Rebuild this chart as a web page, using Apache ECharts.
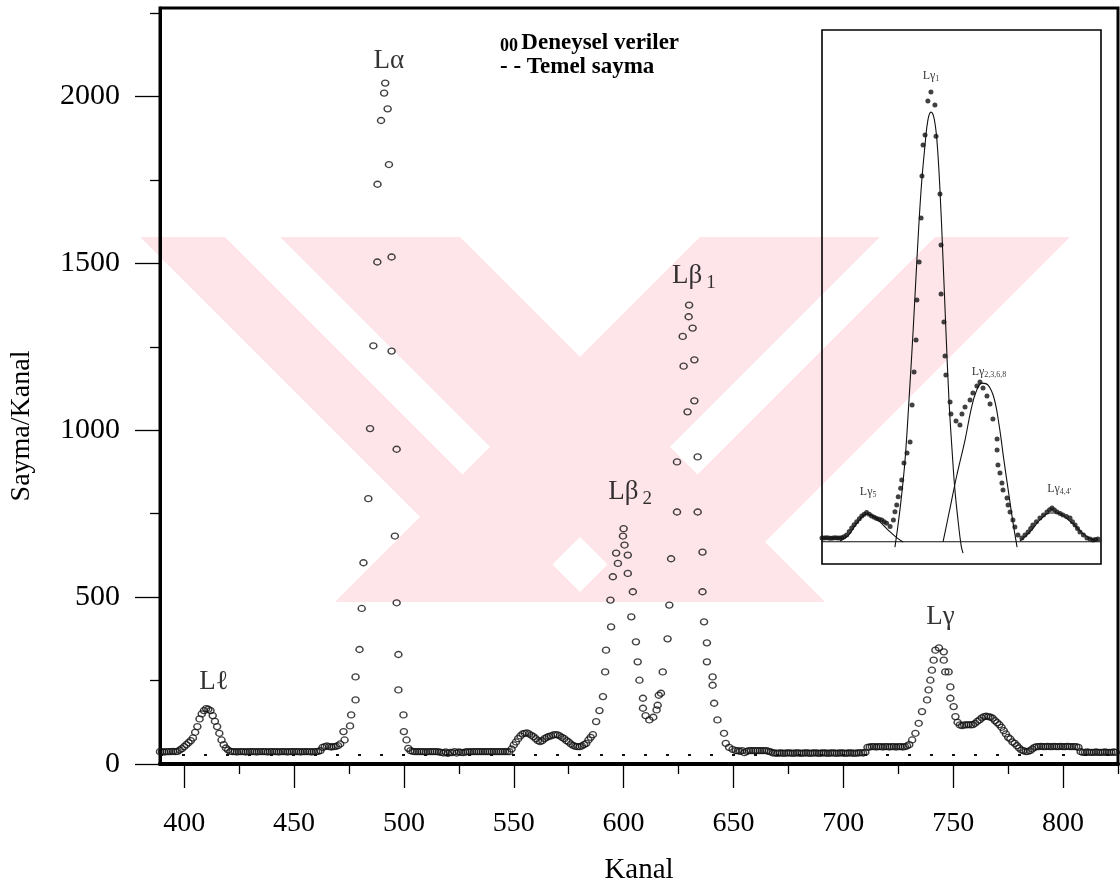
<!DOCTYPE html>
<html>
<head>
<meta charset="utf-8">
<script src="https://cdn.jsdelivr.net/npm/echarts@6/dist/echarts.min.js"></script>
<style>
  html, body { margin: 0; padding: 0; background: #fff; }
  #chart { width: 1120px; height: 890px; }
</style>
</head>
<body>
<div id="chart"></div>
<script>
// Deneysel veriler: [kanal, sayma]
const deneysel = [
  [389,37],[390,37],[391,36],[392,37],[393,37],[394,37],[395,38],[396,37],[397,38],[398,42],[399,46],
  [400,52],[401,58],[402,64],[403,70],[404,78],[405,95],[406,112],[407,135],[408,150],[409,160],
  [410,166],[411,164],[412,160],[413,145],[414,128],[415,112],[416,92],[417,72],[418,58],[419,48],
  [420,42],[421,38],[422,37],[423,37],[424,36],[425,37],[426,37],[427,37],[428,36],[429,37],
  [430,37],[431,37],[432,37],[433,36],[434,37],[435,37],[436,37],[437,37],[438,36],[439,37],
  [440,37],[441,37],[442,37],[443,36],[444,37],[445,37],[446,37],[447,36],[448,37],[449,37],
  [450,37],[451,37],[452,37],[453,36],[454,37],[455,37],[456,37],[457,37],[458,36],[459,37],
  [460,37],[461,38],[462,40],[463,50],[464,52],[465,54],[466,52],[467,51],[468,52],[469,53],
  [470,55],[471,60],[473,72],[472.5,97],[475.5,114],[476,147],[478,192],[478,261],[479.8,343],
  [480.8,466],[481.6,603],[483.8,795],[484.6,1005],[486.1,1253],[487.9,1504],[488,1737],[489.6,1928],
  [491,2010],[491.5,2040],[492.6,1963],[493.2,1796],[494.4,1519],[494.4,1237],[496.7,943],[495.9,683],
  [496.7,483],[497.5,328],[497.5,222],[499.8,147],[500,97],[501.2,72],[502,47],[503,40],
  [504,38],[505,37],[506,37],[507,37],[508,37],[509,37],[510,36],[511,37],[512,37],[513,37],
  [514,37],[515,37],[516,36],[517,35],[518,33],[519,36],[520,32],[521,35],[522,34],[523,37],
  [524,33],[525,36],[526,35],[527,34],[528,36],[529,37],[530,36],[531,37],[532,37],[533,37],
  [534,37],[535,37],[536,37],[537,37],[538,37],[539,37],[540,37],[541,37],[542,37],[543,37],
  [544,37],[545,37],[546,37],[547,37],[548,37],[549,45],[550,57],[551,66],[552,76],[553,84],
  [554,90],[555,92],[556,93],[557,90],[558,86],[559,82],[560,76],[561,70],[562,67],[563,70],
  [564,76],[565,80],[566,83],[567,84],[568,87],[569,88],[570,87],[571,84],[572,80],[573,76],
  [574,70],[575,66],[576,60],[577,56],[578,53],[579,52],[580,52],[581,54],[582,58],[583,62],
  [584,72],[585,80],[586,88],[587.5,127],[589,160],[590.6,202],[591.6,276],[592,341],[594.3,411],
  [594,491],[595.1,561],[596.6,632],[597.4,601],[599.7,683],[600,705],[600.4,656],[601.9,626],
  [601.9,571],[603.5,441],[604.2,516],[605.6,366],[606.4,306],[607.2,251],[608.8,197],[608.8,167],
  [610,145],[611.7,132],[613.5,140],[615,162],[615.5,176],[616,206],[617,212],[617.8,276],
  [620,375],[620.8,476],[621.6,615],[624.3,755],[624.3,905],[626.9,1281],[627.3,1192],[629.1,1055],
  [629.6,1340],[629.8,1375],[631.4,1306],[632.2,1211],[632.2,1088],[633.7,920],[633.7,755],
  [635.9,635],[635.9,516],[636.6,426],[637.9,363],[637.9,306],[640.5,261],[640.5,236],[641.2,182],
  [642.7,132],[645.7,92],[646.5,62],[648,50],[649.6,44],
  [651,40],[652,40],[653,38],[654,40],[655,34],[656,38],[657,40],[658,40],[659,40],[660,40],
  [661,40],[662,40],[663,40],[664,40],[665,40],[666,38],[667,36],[668,33],[669,33],[670,32],
  [671,33],[672,33],[673,32],[674,33],[675,33],[676,33],[677,32],[678,33],[679,33],[680,33],
  [681,32],[682,33],[683,33],[684,33],[685,32],[686,33],[687,33],[688,33],[689,32],[690,33],
  [691,33],[692,33],[693,32],[694,33],[695,33],[696,33],[697,32],[698,33],[699,33],[700,33],
  [701,32],[702,33],[703,33],[704,33],[705,32],[706,33],[707,33],[708,34],[709,33],[710,35],
  [711,50],[712,51],[713,52],[714,52],[715,51],[716,52],[717,52],[718,51],[719,52],[720,52],
  [721,51],[722,52],[723,52],[724,51],[725,52],[726,52],[727,51],[728,52],[729,54],[730,58],
  [731.3,72],[732.8,92],[734.3,122],[735.8,157],[738.1,192],[738.8,222],[739.6,251],[740.3,281],
  [741.1,311],[741.9,341],[743.5,348],[745.7,336],[745.7,311],[746.4,276],[747.9,276],[748.7,231],
  [748.7,197],[750.2,172],[751,142],[752,125],[753,117],[754,115],[755,117],[756,117],[757,118],
  [758,117],[759,118],[760,122],[761,128],[762,132],[763,138],[764,142],[765,143],[766,142],
  [767,140],[768,137],[769,130],[770,124],[771,118],[772,110],[773,100],[774,90],[775,80],
  [776,75],[777,66],[778,62],[779,55],[780,48],[781,42],[782,40],[783,37],[784,38],[785,40],
  [786,45],[787,50],[788,52],[789,52],[790,53],[791,52],[792,52],[793,53],[794,52],[795,52],
  [796,53],[797,52],[798,52],[799,53],[800,52],[801,52],[802,53],[803,52],[804,52],[805,52],
  [806,52],[807,50],[808,37],[809,35],[810,35],[811,36],[812,35],[813,35],[814,35],[815,36],
  [816,35],[817,35],[818,35],[819,36],[820,35],[821,35],[822,35],[823,36],[824,35]
];

// Temel sayma (arka plan düzeyi)
const temelSayma = [[389, 27], [825, 27]];

// Pik adları ve etiket konumları
const pikAdlari = ['L\u2113', 'L\u03b1', 'L\u03b2|1', 'L\u03b2|2', 'L\u03b3'];
const pikKanal = [413.6, 493.1, 632, 603, 744.2];
const pikSayma = [246, 2105, 1461, 814, 440];

// Eksen işaretleri
const xEtiketleri = [400, 450, 500, 550, 600, 650, 700, 750, 800];
const xAraIsaret = [425, 475, 525, 575, 625, 675, 725, 775, 825];
const yEtiketleri = [0, 500, 1000, 1500, 2000];
const yAraIsaret = [250, 750, 1250, 1750, 2250];

// İç grafik: Lγ bölgesi, noktalar
const icNoktalar = [
  [700,117],[701,117],[702,118],[703,117],[704,116],[705,117],[706,118],[707,117],[708,117],[709,118],[710,122],
  [711.2,130],[712.4,146],[713.5,162],[714.6,176],[715.8,190],[717,203],[718.1,216],[719.2,224],[720.3,231],
  [721.5,224],[722.6,216],[723.8,210],[724.9,205],[726,201],[727.2,198],[728.3,190],[729.4,183],[731,168],
  [732.5,198],[733.2,235],[734,265],[734.7,302],[735.8,340],[736.3,377],[737.3,454],[738.7,499],[740.1,548],
  [741,715],[741.9,863],[742.8,1007],[743.2,1186],[744.2,1357],[745.1,1555],[745.5,1744],[746,1883],[746.9,1928],
  [748.2,2081],[751.4,2063],[749.6,2121],
  [751.9,1923],[753.7,1663],[754.2,1434],[754.2,1213],[755.5,1088],[756,935],[756.4,849],[758.3,728],
  [758.7,674],[761,643],[762.8,625],[763.7,674],[765.1,706],[767.4,737],[768.7,768],[770.5,800],[771.9,818],
  [773.3,791],[775.1,755],[776.5,719],[777.8,652],[779.7,562],[779.7,512],[780.1,445],[781,409],[781.9,364],
  [782.4,333],[784.2,297],[784.7,265],[785.6,234],[786.9,198],[787.8,166],[789.2,130],[791,117],
  [792.4,130],[793.8,144],[795,160],[796,175],[797.6,190],[799.2,207],[800.8,220],[802.4,234],[803.6,244],
  [804.7,252],[805.8,243],[807,234],[808.4,227],[809.7,220],[811.3,214],[812.9,207],[814,190],[815.2,175],
  [816.3,160],[817.4,144],[819,130],[820.6,117],[822,112],[823.4,108],[824.5,110],[825.6,112]
];

// İç grafik: uydurulmuş pik eğrileri
const egriLg5 = [[708.2,103],[711.8,126],[715,171],[718.2,211],[720.5,225],[723.2,216],[726.4,189],[730,153],[733.7,121],[736.9,99]];
const egriLg1 = [[733.2,76],[734.6,175],[736,288],[737.8,467],[739.6,737],[741.5,1052],[743.2,1366],[745.1,1681],
  [746.9,1883],[748.2,1995],[749.6,2031],[751,2004],[752.3,1905],[753.7,1681],[755.1,1366],[756.4,1052],
  [757.8,737],[759.2,512],[760.5,333],[761.9,198],[763.3,85],[764.2,49]];
const egriLg2 = [[755.1,99],[758.3,252],[761.4,400],[765.1,557],[767.8,692],[770.1,773],[772.8,813],[775.6,804],
  [778.3,746],[780.6,625],[782.8,467],[785.1,310],[786.9,189],[788.8,76]];
const egriLg4 = [[790.1,103],[794.7,144],[799.2,198],[803.8,229],[807.4,229],[811.1,207],[815.2,171],[819.7,130],[824.3,103]];
const icTemel = [[700, 100], [827, 100]];

// İç grafik etiketleri
const icAdlar = ['1', '2,3,6,8', '5', "4,4'"];
const icKanal = [749.6, 776, 721, 808];
const icSayma = [2193, 863, 324, 337];

const SERIF = '"Liberation Serif", "DejaVu Serif", serif';
const PINK = '#fde5ea';

const chart = echarts.init(document.getElementById('chart'), null, { renderer: 'canvas' });

const peakRich = {
  a: { fontFamily: SERIF, fontSize: 27, color: '#000' },
  b: { fontFamily: SERIF, fontSize: 19, color: '#000', padding: [14, 0, 0, 4] }
};
const insetRich = {
  a: { fontFamily: SERIF, fontSize: 12, color: '#000' },
  b: { fontFamily: SERIF, fontSize: 8, color: '#000', padding: [6, 0, 0, 0] }
};

// Soluk pembe arka plan damgası
function bands() {
  const poly = (pts) => ({ type: 'polygon', silent: true, z: -10, shape: { points: pts }, style: { fill: PINK } });
  return [
    poly([[140,237],[225,237],[590,602],[505,602]]),
    poly([[280,237],[460,237],[825,602],[645,602]]),
    poly([[700,237],[880,237],[515,602],[335,602]]),
    poly([[935,237],[1070,237],[705,602],[570,602]])
  ];
}

const plain = (v) => String(v);

chart.setOption({
  animation: false,
  backgroundColor: '#fff',
  grid: [
    { left: 158, top: 8, width: 960, height: 756, show: true, borderColor: '#000', borderWidth: 3, backgroundColor: 'transparent' },
    { left: 822, top: 30, width: 279, height: 534, show: true, borderColor: '#000', borderWidth: 1.6, backgroundColor: 'transparent' }
  ],
  xAxis: [
    {
      gridIndex: 0, type: 'value', min: 389, max: 825,
      axisLine: { show: true, onZero: false, lineStyle: { color: '#000', width: 4 } },
      axisTick: { show: true, customValues: xEtiketleri, length: 24, lineStyle: { color: '#000', width: 1.3 } },
      axisLabel: { customValues: xEtiketleri, formatter: plain, margin: 46, fontFamily: SERIF, fontSize: 28, color: '#000' },
      splitLine: { show: false },
      name: 'Kanal', nameLocation: 'middle', nameGap: 92,
      nameTextStyle: { fontFamily: SERIF, fontSize: 29, color: '#000' }
    },
    {
      gridIndex: 0, type: 'value', min: 389, max: 825, position: 'bottom',
      axisLine: { show: false },
      axisTick: { show: true, customValues: xAraIsaret, length: 10, lineStyle: { color: '#000', width: 1.3 } },
      axisLabel: { show: false }, splitLine: { show: false }
    },
    { gridIndex: 1, type: 'value', min: 700, max: 827, show: false }
  ],
  yAxis: [
    {
      gridIndex: 0, type: 'value', min: 0, max: 2265,
      axisLine: { show: true, onZero: false, lineStyle: { color: '#000', width: 3 } },
      axisTick: { show: true, customValues: yEtiketleri, length: 25, lineStyle: { color: '#000', width: 1.3 } },
      axisLabel: { customValues: yEtiketleri, formatter: plain, margin: 40, fontFamily: SERIF, fontSize: 30, color: '#000' },
      splitLine: { show: false },
      name: 'Sayma/Kanal', nameLocation: 'middle', nameGap: 124,
      nameTextStyle: { fontFamily: SERIF, fontSize: 28, color: '#000', padding: [0, 80, 0, 0] }
    },
    {
      gridIndex: 0, type: 'value', min: 0, max: 2265, position: 'left',
      axisLine: { show: false },
      axisTick: { show: true, customValues: yAraIsaret, length: 10, lineStyle: { color: '#000', width: 1.3 } },
      axisLabel: { show: false }, splitLine: { show: false }
    },
    { gridIndex: 1, type: 'value', min: 0, max: 2400, show: false }
  ],
  graphic: [
    ...bands(),
    {
      type: 'text', left: 500, top: 32, z: 50,
      style: {
        text: '{s|00} {t|Deneysel veriler}',
        rich: {
          s: { fontFamily: SERIF, fontSize: 18, fontWeight: 'bold', fill: '#000', padding: [5, 0, 0, 0] },
          t: { fontFamily: SERIF, fontSize: 23, fontWeight: 'bold', fill: '#000' }
        }
      }
    },
    {
      type: 'text', left: 500, top: 56, z: 50,
      style: { text: '- - Temel sayma', font: 'bold 23px ' + SERIF, fill: '#000' }
    }
  ],
  series: [
    {
      name: 'Temel sayma', type: 'line', xAxisIndex: 0, yAxisIndex: 0,
      data: temelSayma, symbol: 'none', silent: true, z: 2,
      lineStyle: { color: '#111', width: 1.8, type: [3, 19] }
    },
    {
      name: 'Deneysel veriler', type: 'scatter', xAxisIndex: 0, yAxisIndex: 0,
      data: deneysel, symbol: 'circle', symbolSize: [7, 6], z: 3,
      itemStyle: { color: 'rgba(255,255,255,0)', borderColor: '#111', borderWidth: 1.4 }
    },
    {
      name: 'Pikler', type: 'scatter', xAxisIndex: 0, yAxisIndex: 0, symbolSize: 0, z: 4, silent: true,
      data: pikAdlari.map((n, i) => ({ value: [pikKanal[i], pikSayma[i]], name: n })),
      label: {
        show: true, position: 'inside',
        formatter: (p) => {
          const parts = p.name.split('|');
          return parts.length > 1 ? '{a|' + parts[0] + '}{b|' + parts[1] + '}' : '{a|' + parts[0] + '}';
        },
        rich: peakRich
      }
    },
    {
      name: 'Temel (iç)', type: 'line', xAxisIndex: 2, yAxisIndex: 2, data: icTemel,
      symbol: 'none', silent: true, lineStyle: { color: '#111', width: 1.2 }
    },
    {
      name: 'Lγ5 uyum', type: 'line', xAxisIndex: 2, yAxisIndex: 2, data: egriLg5, smooth: 0.4,
      symbol: 'none', silent: true, lineStyle: { color: '#111', width: 1.1 }
    },
    {
      name: 'Lγ1 uyum', type: 'line', xAxisIndex: 2, yAxisIndex: 2, data: egriLg1, smooth: 0.4,
      symbol: 'none', silent: true, lineStyle: { color: '#111', width: 1.1 }
    },
    {
      name: 'Lγ2 uyum', type: 'line', xAxisIndex: 2, yAxisIndex: 2, data: egriLg2, smooth: 0.4,
      symbol: 'none', silent: true, lineStyle: { color: '#111', width: 1.1 }
    },
    {
      name: 'Lγ4 uyum', type: 'line', xAxisIndex: 2, yAxisIndex: 2, data: egriLg4, smooth: 0.4,
      symbol: 'none', silent: true, lineStyle: { color: '#111', width: 1.1 }
    },
    {
      name: 'İç noktalar', type: 'scatter', xAxisIndex: 2, yAxisIndex: 2, data: icNoktalar,
      symbol: 'circle', symbolSize: 5, z: 5, itemStyle: { color: '#111' }
    },
    {
      name: 'İç etiketler', type: 'scatter', xAxisIndex: 2, yAxisIndex: 2, symbolSize: 0, z: 6, silent: true,
      data: icAdlar.map((n, i) => ({ value: [icKanal[i], icSayma[i]], name: n })),
      label: {
        show: true, position: 'inside',
        formatter: (p) => '{a|L\u03b3}{b|' + p.name + '}',
        rich: insetRich
      }
    }
  ]
});
</script>
</body>
</html>
